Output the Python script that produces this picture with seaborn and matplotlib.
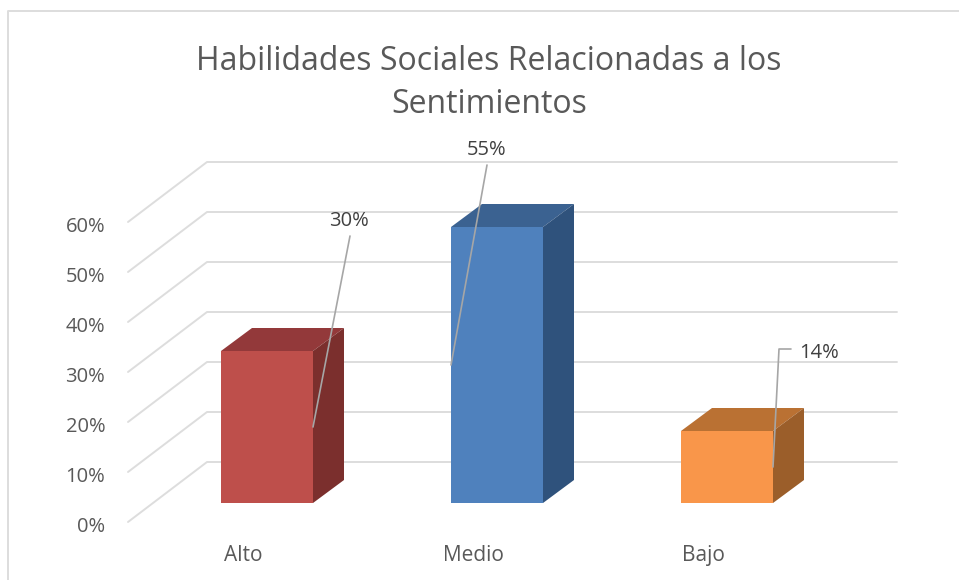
# Habilidades sociales chart, fake 3D columns on top of a seaborn barplot
import matplotlib
matplotlib.use("Agg")
import matplotlib.pyplot as plt
import seaborn as sns
from matplotlib.lines import Line2D
from matplotlib.patches import Polygon
from matplotlib.transforms import Affine2D, IdentityTransform

categories = ["Alto", "Medio", "Bajo"]
values = [30.4, 55.2, 14.4]
value_labels = ["30%", "55%", "14%"]
y_ticks = [0, 10, 20, 30, 40, 50, 60]
y_labels = ["0%", "10%", "20%", "30%", "40%", "50%", "60%"]
title = "Habilidades Sociales Relacionadas a los\nSentimientos"

front_colors = ["#BE4F4B", "#4F81BD", "#F9964A"]
top_colors = ["#93393A", "#3B6291", "#BA7133"]
side_colors = ["#7B2F2D", "#2F527C", "#9B5E2A"]
text_color = "#595959"
grid_color = "#DDDDDD"
leader_color = "#A6A6A6"

W, H = 959, 580
sns.set_theme(style="white")
plt.rcParams["font.family"] = ["Open Sans", "DejaVu Sans"]

fig = plt.figure(figsize=(W / 100, H / 100), dpi=100)
# front plane of the columns: x 152-842 px, y 503-203 px
ax = fig.add_axes([152 / W, 1 - 503 / H, 690 / W, 300 / H])

sns.barplot(x=categories, y=values, hue=categories, palette=front_colors,
            width=0.4, saturation=1, legend=False, ax=ax, zorder=3, linewidth=0)
ax.set_xlim(-0.5, 2.5)
ax.set_ylim(0, 60)
sns.despine(ax=ax, left=True, bottom=True)
ax.patch.set_alpha(0)
ax.tick_params(length=0)


def shifted(dx, dy):
    # data coords moved by some pixels (dy up)
    return ax.transData + Affine2D().translate(dx, dy)


# walls: floor/side line plus the back gridline
for t in y_ticks:
    p = ax.transData.transform((-0.5, t))
    q = ax.transData.transform((2.5, t))
    ax.add_line(Line2D([p[0] - 24, p[0] + 55, q[0] + 55],
                       [p[1] - 19, p[1] + 41, q[1] + 41],
                       transform=IdentityTransform(), color=grid_color,
                       lw=1.4, zorder=1, clip_on=False))

# tick labels
ax.set_yticks(y_ticks)
ax.set_yticklabels(y_labels, fontsize=14.5, color=text_color)
for lab in ax.get_yticklabels():
    lab.set_transform(lab.get_transform() + Affine2D().translate(-42, -21))
ax.set_xticks(range(len(categories)))
ax.set_xticklabels(categories, fontsize=15, color=text_color)
for lab in ax.get_xticklabels():
    lab.set_transform(lab.get_transform() + Affine2D().translate(-24, -37))
ax.set_xlabel("")
ax.set_ylabel("")

# depth faces of the columns
dx, dy = 31, 23
for bar, top_c, side_c in zip(ax.patches, top_colors, side_colors):
    x0 = bar.get_x()
    x1 = x0 + bar.get_width()
    v = bar.get_height()
    a = ax.transData.transform((x0, v))
    b = ax.transData.transform((x1, v))
    c = ax.transData.transform((x1, 0))
    ax.add_patch(Polygon([a, b, b + (dx, dy), a + (dx, dy)], closed=True,
                         transform=IdentityTransform(), fc=top_c, ec="none",
                         zorder=3, clip_on=False))
    ax.add_patch(Polygon([b, c, c + (dx, dy), b + (dx, dy)], closed=True,
                         transform=IdentityTransform(), fc=side_c, ec="none",
                         zorder=3, clip_on=False))

# data labels with leader lines, offsets in px from the middle of the column
anchor_side = [1, 0, 1]
leader_px = [[(37, 191)], [(36, 200)], [(6, 118), (18, 118)]]
label_px = [(36, 206), (36, 215), (46, 114)]
for bar, v, lab, side, pts, off in zip(ax.patches, values, value_labels,
                                       anchor_side, leader_px, label_px):
    xa = bar.get_x() + side * bar.get_width()
    start = ax.transData.transform((xa, v / 2))
    xs = [start[0]] + [start[0] + p[0] for p in pts]
    ys = [start[1]] + [start[1] + p[1] for p in pts]
    ax.add_line(Line2D(xs, ys, transform=IdentityTransform(),
                       color=leader_color, lw=1.2, zorder=4, clip_on=False))
    ax.text(xa, v / 2, lab, transform=shifted(*off), ha="center", va="center",
            fontsize=14.5, color="#404040", zorder=5, clip_on=False)

fig.suptitle(title, x=489 / W, y=1 - 83 / H, va="center", ha="center",
             fontsize=23, color=text_color, linespacing=1.4)

# chart frame, top and left only are visible
fig.add_artist(Line2D([8 / W, 8 / W, 1], [0, 1 - 11 / H, 1 - 11 / H],
                      color=grid_color, lw=1.4))

fig.savefig("out.png", dpi=100)
